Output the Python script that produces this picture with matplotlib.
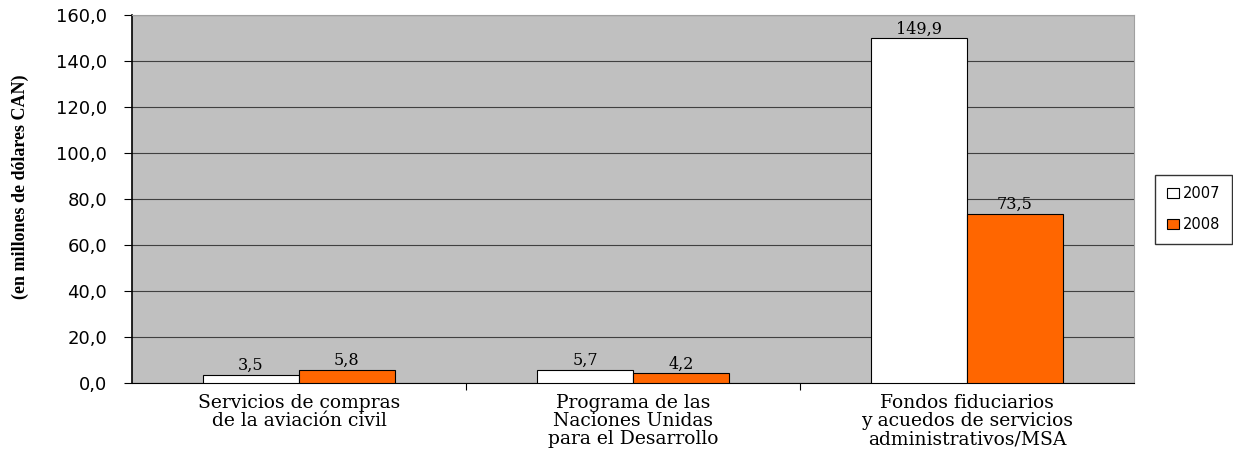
import matplotlib.pyplot as plt
import numpy as np

categories = ["Servicios de compras\nde la aviación civil",
              "Programa de las\nNaciones Unidas\npara el Desarrollo",
              "Fondos fiduciarios\ny acuedos de servicios\nadministrativos/MSA"]
years = ["2007", "2008"]
values_2007 = [3.5, 5.7, 149.9]
values_2008 = [5.8, 4.2, 73.5]
yticks = [0, 20, 40, 60, 80, 100, 120, 140, 160]

fig = plt.figure(figsize=(12.33, 4.5), dpi=100)
ax = fig.add_axes([0.107, 0.149, 0.8128, 0.8177])
ax.set_facecolor("#c0c0c0")

x = np.arange(len(categories))
w = 0.287
b1 = ax.bar(x - w / 2, values_2007, w, color="white", edgecolor="black", linewidth=0.8, label=years[0], zorder=3)
b2 = ax.bar(x + w / 2, values_2008, w, color="#ff6600", edgecolor="black", linewidth=0.8, label=years[1], zorder=3)

for bars, vals in ((b1, values_2007), (b2, values_2008)):
    for r, v in zip(bars, vals):
        ax.text(r.get_x() + r.get_width() / 2, v + 0.3, f"{v:.1f}".replace(".", ","),
                ha="center", va="bottom", fontsize=11.5, family="DejaVu Serif")

ax.set_xlim(-0.5, 2.5)
ax.set_ylim(0, 160)
ax.set_yticks(yticks)
ax.set_yticklabels([f"{t:.1f}".replace(".", ",") for t in yticks],
                   fontsize=13, family="DejaVu Sans")
ax.yaxis.grid(True, color="#404040", linewidth=0.8, zorder=0)
ax.set_axisbelow(True)

ax.set_xticks([0.5, 1.5])
ax.set_xticklabels([])
ax.set_xticks(x, minor=True)
ax.set_xticklabels(categories, minor=True, fontsize=13.5, family="DejaVu Serif", linespacing=1.0)
ax.tick_params(axis="x", which="minor", length=0, pad=8)
ax.tick_params(axis="x", which="major", length=5, direction="out")
ax.tick_params(axis="y", length=6, direction="out", pad=12)

for s in ("top", "right"):
    ax.spines[s].set_color("#a0a0a0")
ax.spines["left"].set_linewidth(1.2)

fig.text(20 / 1233, 1 - 187 / 450, "(en millones de dólares CAN)", rotation=90,
         ha="center", va="center", fontsize=13, fontweight="bold", family="Liberation Serif")

fig.legend(handles=[b1, b2], labels=years, loc="center left",
           bbox_to_anchor=(0.931, 0.535), frameon=True, fancybox=False,
           edgecolor="black", prop={"family": "DejaVu Sans", "size": 10.5},
           handlelength=0.8, handleheight=0.7, handletextpad=0.3, labelspacing=1.1,
           borderpad=0.8)

fig.savefig("out.png", dpi=100)
